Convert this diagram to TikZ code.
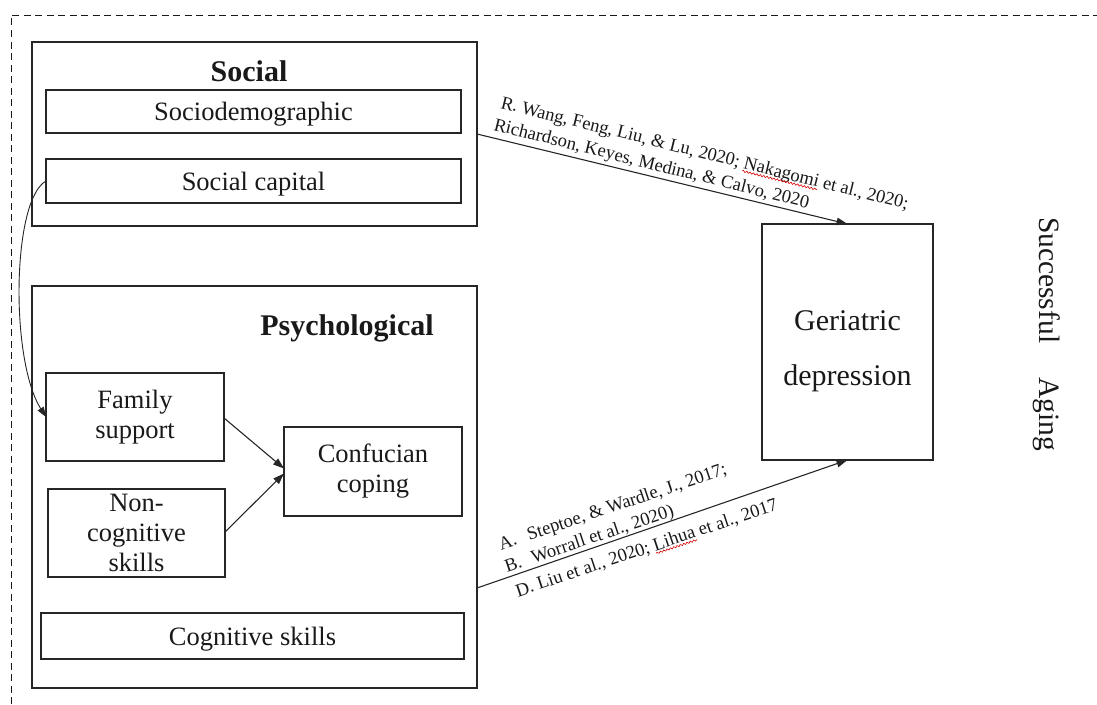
\documentclass[tikz,border=0pt]{standalone}
\usepackage{fontspec}
\setmainfont{Liberation Serif}
\usetikzlibrary{arrows.meta,calc,decorations.pathmorphing}
\begin{document}
\begin{tikzpicture}[x=1pt,y=-1pt,
  box/.style={draw=black!85, line width=1.2pt, inner sep=0pt, outer sep=0pt,
    align=center, text=black!90},
  body/.style={font=\fontsize{26.5}{30}\selectfont},
  oneline/.style={body, text height=18pt, text depth=0pt},
  title/.style={font=\fontsize{30}{34}\selectfont\bfseries, inner sep=0pt,
    anchor=base, text=black!90},
  cite/.style={font=\fontsize{18.5}{20}\selectfont, inner sep=0pt, outer sep=0pt,
    anchor=base west, text=black!90},
  link/.style={line width=1.1pt, draw=black!85,
    -{Triangle[length=11pt,width=7.5pt]}},
  wave/.style={draw=red!85!black, line width=0.6pt, decorate,
    decoration={snake, amplitude=0.9pt, segment length=3.5pt}},
  frame/.style={draw=black!90, line width=1pt, dash pattern=on 7pt off 4.5pt}
]
\useasboundingbox (0,0) rectangle (1097,704);

% outer dashed frame
\draw[frame] (11,704) -- (11,15) -- (1097,15);

% social block
\node[box, minimum width=445, minimum height=184] (social) at (254.5,134) {};
\node[title] (socialt) at (249,81) {Social};
\node[box, oneline, minimum width=415, minimum height=43] (socdem) at (253.5,111.5) {Sociodemographic};
\node[box, oneline, minimum width=415, minimum height=44] (socap) at (253.5,181) {Social capital};

% psychological block
\node[box, minimum width=445, minimum height=402] (psych) at (254.5,487) {};
\node[title] (psycht) at (347,335) {Psychological};
\node[box, body, minimum width=178, minimum height=88] (fam) at (135,417) {Family\\support};
\node[box, body, minimum width=177, minimum height=88] (noncog) at (136.5,533) {Non-\\cognitive\\skills};
\node[box, body, minimum width=178, minimum height=89] (conf) at (373,471.5) {Confucian\\coping};
\node[box, oneline, minimum width=423, minimum height=46] (cogn) at (252.5,636) {Cognitive skills};

% outcome
\node[box, minimum width=171, minimum height=236] (ger) at (847.5,342) {};
\node[align=center, inner sep=0pt, text=black!90,
  font=\fontsize{30}{55}\selectfont] (gert) at ($(ger.center)+(0,9)$) {Geriatric\\depression};

\node[rotate=-90, inner sep=0pt, text=black!90, font=\fontsize{29.5}{34}\selectfont]
  (aging) at (1047,334) {Successful\hspace{34pt}Aging};

% connectors
\coordinate (pout) at ($(psych.east)+(0,101)$);
\draw[link] (social.east) -- (ger.north);
\draw[link] (pout) -- (ger.south);
\draw[link] ($(fam.east)+(0,1)$) -- ($(conf.west)+(0,-3)$);
\draw[link] ($(noncog.east)+(0,-1)$) -- ($(conf.west)+(0,2)$);
\draw[link, line width=0.9pt, -{Triangle[length=10pt,width=7pt]}]
  (socap.west) .. controls (12,200) and (10,360) .. (fam.west);

% references on the upper path
\node[cite, rotate=-14] (t1a) at (500,108) {R. Wang, Feng, Liu, \& Lu, 2020;\kern.25em};
\node[cite, rotate=-14] (nak) at (t1a.base east) {Nakagomi};
\node[cite, rotate=-14] (t1c) at (nak.base east) {\kern.25em et al., 2020;};
\node[cite, rotate=-14] (t2) at (493,130) {Richardson, Keyes, Medina, \& Calvo, 2020};
\draw[wave] ($(nak.base west)!2.5pt!-90:(nak.base east)$) -- ($(nak.base east)!2.5pt!90:(nak.base west)$);

% references on the lower path
\node[cite, rotate=18.5] (ba) at (501,550) {A.\hspace{12pt}Steptoe, \& Wardle, J., 2017;};
\node[cite, rotate=18.5] (bb) at (507,572) {B.\hspace{11pt}Worrall et al., 2020)};
\node[cite, rotate=18.5] (bd) at (518,597) {D. Liu et al., 2020;\kern.25em};
\node[cite, rotate=18.5] (lih) at (bd.base east) {Lihua};
\node[cite, rotate=18.5] (bd2) at (lih.base east) {\kern.25em et al., 2017};
\draw[wave] ($(lih.base west)!2.5pt!-90:(lih.base east)$) -- ($(lih.base east)!2.5pt!90:(lih.base west)$);
\end{tikzpicture}
\end{document}
